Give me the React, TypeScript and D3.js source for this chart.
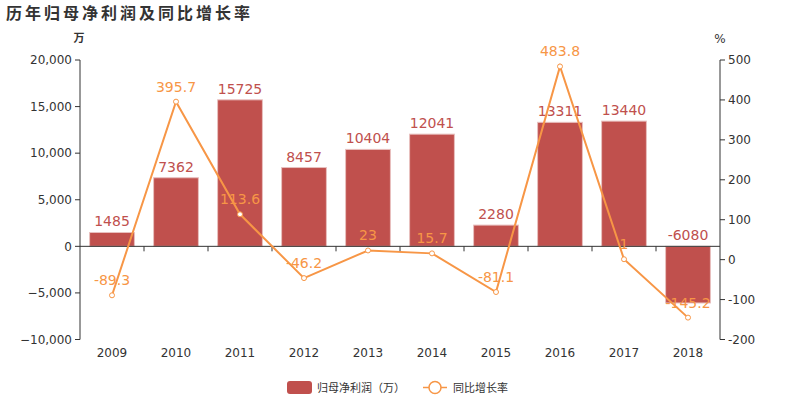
import React from "react";
import * as d3 from "d3";

const years = ["2009","2010","2011","2012","2013","2014","2015","2016","2017","2018"];
const profit = [1485, 7362, 15725, 8457, 10404, 12041, 2280, 13311, 13440, -6080];
const growth = [-89.3, 395.7, 113.6, -46.2, 23, 15.7, -81.1, 483.8, 1, -145.2];
const leftTicks = [-10000, -5000, 0, 5000, 10000, 15000, 20000];
const rightTicks = [-200, -100, 0, 100, 200, 300, 400, 500];

const BAR = "#c0504d";
const LINE = "#f79646";
const TXT = "#333";
const FONT = "'DejaVu Sans', 'Noto Sans CJK SC', sans-serif";
const CJK = "'Noto Sans CJK SC', sans-serif";

export default function App() {
  const W = 800, H = 400;
  const x0 = 80, x1 = 720;
  const x = d3.scaleBand<string>().domain(years).range([x0, x1]).paddingInner(0.3).paddingOuter(0.15);
  const xc = d3.scaleBand<string>().domain(years).range([x0, x1]);
  const yL = d3.scaleLinear().domain([-10000, 20000]).range([339.5, 60]);
  const yR = d3.scaleLinear().domain([-200, 500]).range([339.5, 60]);
  const fmt = d3.format(",");
  const line = d3.line<number>().x((_, i) => (xc(years[i]) as number) + xc.bandwidth() / 2).y(d => yR(d));
  const zeroY = yL(0);
  return (
    <svg width={W} height={H} style={{ position: "absolute", left: 0, top: 0, fontFamily: FONT }}>
      <rect width={W} height={H} fill="#fff" />
      <text x={6} y={19} fontSize={16} fontWeight="bold" fill={TXT}
        style={{ fontFamily: CJK, letterSpacing: "3px" }}>历年归母净利润及同比增长率</text>
      <text x={79} y={42} fontSize={11} fill={TXT} textAnchor="middle" fontWeight="bold"
        style={{ fontFamily: CJK }}>万</text>
      <text x={720} y={43} fontSize={12} fill={TXT} textAnchor="middle">%</text>

      {profit.map((v, i) => {
        const bx = x(years[i]) as number;
        const top = Math.min(yL(v), zeroY);
        const h = Math.abs(yL(v) - zeroY);
        return <rect key={i} x={bx} y={top} width={x.bandwidth()} height={h} fill={BAR} stroke="#e8c0bf" strokeWidth={1} />;
      })}

      <line x1={x0} x2={x0} y1={yL(20000)} y2={yL(-10000)} stroke={TXT} />
      {leftTicks.map(t => (
        <g key={t}>
          <line x1={x0 - 5} x2={x0} y1={yL(t)} y2={yL(t)} stroke={TXT} />
          <text x={x0 - 8} y={yL(t)} dy="0.35em" textAnchor="end" fontSize={12} fill={TXT}>{fmt(t)}</text>
        </g>
      ))}
      <line x1={x1} x2={x1} y1={yR(500)} y2={yR(-200)} stroke={TXT} />
      {rightTicks.map(t => (
        <g key={t}>
          <line x1={x1} x2={x1 + 5} y1={yR(t)} y2={yR(t)} stroke={TXT} />
          <text x={x1 + 8} y={yR(t)} dy="0.35em" textAnchor="start" fontSize={12} fill={TXT}>{t}</text>
        </g>
      ))}
      <line x1={x0} x2={x1} y1={zeroY} y2={zeroY} stroke={TXT} />
      {years.map((yr, i) => (
        <g key={yr}>
          {i > 0 && <line x1={xc(yr)} x2={xc(yr)} y1={zeroY} y2={zeroY + 5} stroke={TXT} />}
          <text x={(xc(yr) as number) + xc.bandwidth() / 2} y={357} textAnchor="middle" fontSize={12} fill={TXT}>{yr}</text>
        </g>
      ))}

      {profit.map((v, i) => (
        <text key={i} x={(x(years[i]) as number) + x.bandwidth() / 2} y={Math.min(yL(v), zeroY) - 6}
          textAnchor="middle" fontSize={14} fill={BAR}>{v}</text>
      ))}

      <path d={line(growth) || ""} fill="none" stroke={LINE} strokeWidth={2} />
      {growth.map((v, i) => (
        <circle key={i} cx={(xc(years[i]) as number) + xc.bandwidth() / 2} cy={yR(v)} r={2.5} fill="#fff" stroke={LINE} strokeWidth={1} />
      ))}
      {growth.map((v, i) => (
        <text key={i} x={(xc(years[i]) as number) + xc.bandwidth() / 2} y={yR(v) - 10}
          textAnchor="middle" fontSize={14} fill={LINE}>{v}</text>
      ))}

      <rect x={287} y={381} width={25} height={13} rx={3} fill={BAR} />
      <text x={317} y={391.5} fontSize={11} fill={TXT} style={{ fontFamily: CJK }}>归母净利润（万）</text>
      <line x1={423} x2={447} y1={387.5} y2={387.5} stroke={LINE} strokeWidth={1.5} />
      <circle cx={435} cy={387.5} r={6} fill="#fff" stroke={LINE} strokeWidth={1.5} />
      <text x={453} y={391.5} fontSize={11} fill={TXT} style={{ fontFamily: CJK }}>同比增长率</text>
    </svg>
  );
}
